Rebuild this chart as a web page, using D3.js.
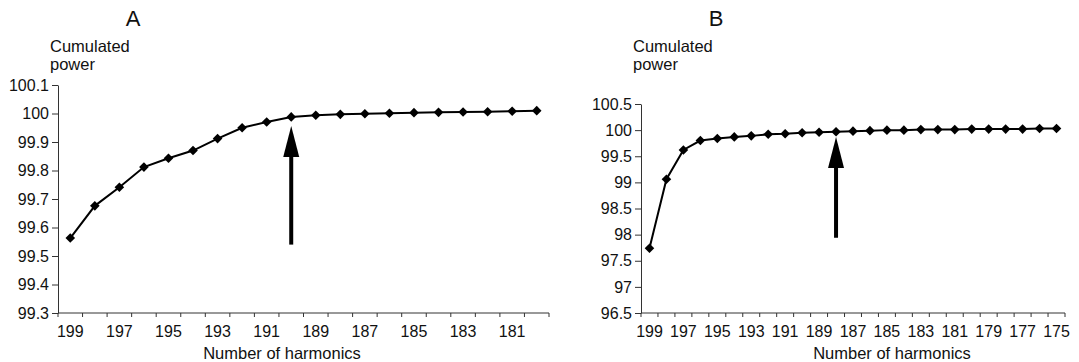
<!DOCTYPE html>
<html>
<head>
<meta charset="utf-8">
<script src="https://cdn.jsdelivr.net/npm/d3@7"></script>
<style>
  body { margin: 0; background: #fff; }
  svg { display: block; font-family: "Liberation Sans", Arial, Helvetica, sans-serif; }
</style>
</head>
<body>
<div id="app"></div>
<script>
// Panel A: harmonics 199 → 180
const harmonicsA = [199, 198, 197, 196, 195, 194, 193, 192, 191, 190,
  189, 188, 187, 186, 185, 184, 183, 182, 181, 180];
const powerA = [99.563, 99.676, 99.741, 99.812, 99.843, 99.870, 99.912, 99.950, 99.970, 99.988,
  99.994, 99.997, 99.999, 100.001, 100.003, 100.004, 100.005, 100.006, 100.008, 100.010];
const yTicksA = [99.3, 99.4, 99.5, 99.6, 99.7, 99.8, 99.9, 100, 100.1];
const xLabelsA = [199, 197, 195, 193, 191, 189, 187, 185, 183, 181];

// Panel B: harmonics 199 → 175
const harmonicsB = [199, 198, 197, 196, 195, 194, 193, 192, 191, 190,
  189, 188, 187, 186, 185, 184, 183, 182, 181, 180,
  179, 178, 177, 176, 175];
const powerB = [97.74, 99.06, 99.62, 99.80, 99.84, 99.87, 99.89, 99.92, 99.93, 99.95,
  99.96, 99.97, 99.98, 99.99, 100.0, 100.0, 100.01, 100.01, 100.01, 100.02,
  100.02, 100.02, 100.02, 100.03, 100.03];
const yTicksB = [96.5, 97, 97.5, 98, 98.5, 99, 99.5, 100, 100.5];
const xLabelsB = [199, 197, 195, 193, 191, 189, 187, 185, 183, 181, 179, 177, 175];

// arrows: [harmonic, from value, to value]
const arrowA = [190, 99.54, 99.956];
const arrowB = [188, 97.94, 99.87];

const width = 1079;
const height = 362;

const svg = d3.select("#app")
  .append("svg")
  .attr("width", width)
  .attr("height", height);

function panel(cfg) {
  const g = svg.append("g");

  const x = d3.scaleBand()
    .domain(cfg.harmonics)
    .range([cfg.left, cfg.right]);

  const y = d3.scaleLinear()
    .domain(d3.extent(cfg.yTicks))
    .range([313, cfg.top]);

  // y axis
  g.append("g")
    .attr("transform", `translate(${cfg.left},0)`)
    .call(d3.axisLeft(y)
      .tickValues(cfg.yTicks)
      .tickFormat((d) => String(+d.toFixed(1)))
      .tickSize(6)
      .tickSizeOuter(0)
      .tickPadding(3))
    .call((a) => a.selectAll("text").attr("font-size", 16).attr("fill", "#111"))
    .call((a) => a.selectAll("path,line").attr("stroke", "#333"));

  // x axis: ticks between categories, labels on every other category
  const xa = g.append("g");
  xa.append("line")
    .attr("x1", cfg.left).attr("x2", cfg.right)
    .attr("y1", y.range()[0]).attr("y2", y.range()[0])
    .attr("stroke", "#333");
  xa.selectAll(".tk")
    .data(cfg.harmonics.concat([null]))
    .enter()
    .append("line")
    .attr("x1", (d) => d === null ? cfg.right : x(d))
    .attr("x2", (d) => d === null ? cfg.right : x(d))
    .attr("y1", y.range()[0])
    .attr("y2", y.range()[0] + 4)
    .attr("stroke", "#333");
  xa.selectAll("text")
    .data(cfg.xLabels)
    .enter()
    .append("text")
    .attr("x", (d) => x(d) + x.bandwidth() / 2)
    .attr("y", 337)
    .attr("text-anchor", "middle")
    .attr("font-size", 16)
    .attr("fill", "#111")
    .text((d) => d);

  // line + diamond markers
  const pts = cfg.harmonics.map((h, i) => ({ h, v: cfg.power[i] }));
  g.append("path")
    .datum(pts)
    .attr("fill", "none")
    .attr("stroke", "#000")
    .attr("stroke-width", 2)
    .attr("d", d3.line()
      .x((d) => x(d.h) + x.bandwidth() / 2)
      .y((d) => y(d.v)));

  g.selectAll(".pt")
    .data(pts)
    .enter()
    .append("path")
    .attr("d", d3.symbol(d3.symbolSquare, 46))
    .attr("transform", (d) => `translate(${x(d.h) + x.bandwidth() / 2},${y(d.v)}) rotate(45)`)
    .attr("fill", "#000");

  // arrow
  const [ah, from, to] = cfg.arrow;
  const ax = x(ah) + x.bandwidth() / 2;
  const headH = 31;
  g.append("line")
    .attr("x1", ax).attr("x2", ax)
    .attr("y1", y(from)).attr("y2", y(to) + headH - 2)
    .attr("stroke", "#000")
    .attr("stroke-width", 4);
  g.append("path")
    .attr("d", `M${ax},${y(to)} L${ax - 8},${y(to) + headH} L${ax + 8},${y(to) + headH} Z`)
    .attr("fill", "#000");

  // titles
  g.append("text")
    .attr("x", cfg.letterX)
    .attr("y", 26)
    .attr("text-anchor", "middle")
    .attr("font-size", 22)
    .attr("fill", "#111")
    .text(cfg.letter);

  const yt = g.append("text")
    .attr("font-size", 16.5)
    .attr("fill", "#111");
  yt.append("tspan").attr("x", cfg.yTitleX).attr("y", 52).text("Cumulated");
  yt.append("tspan").attr("x", cfg.yTitleX).attr("y", 70).text("power");

  g.append("text")
    .attr("x", cfg.xTitleX)
    .attr("y", 359)
    .attr("text-anchor", "middle")
    .attr("font-size", 16.5)
    .attr("fill", "#111")
    .text("Number of harmonics");
}

panel({
  harmonics: harmonicsA, power: powerA, yTicks: yTicksA, xLabels: xLabelsA,
  arrow: arrowA, left: 58, right: 549, top: 85,
  letter: "A", letterX: 133, yTitleX: 50, xTitleX: 282
});

panel({
  harmonics: harmonicsB, power: powerB, yTicks: yTicksB, xLabels: xLabelsB,
  arrow: arrowB, left: 641, right: 1065, top: 104,
  letter: "B", letterX: 716, yTitleX: 633, xTitleX: 892
});
</script>
</body>
</html>
